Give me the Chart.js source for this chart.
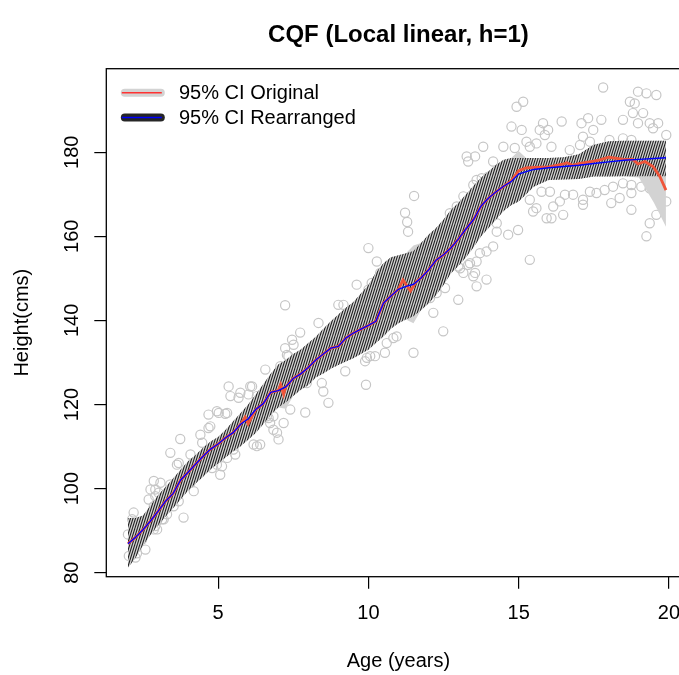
<!DOCTYPE html>
<html><head><meta charset="utf-8">
<script src="https://cdn.jsdelivr.net/npm/chart.js@4.4.1/dist/chart.umd.min.js"></script>
<style>html,body{margin:0;padding:0;background:#fff;overflow:hidden;width:679px;height:675px}canvas{display:block}</style>
</head><body>
<canvas id="c" width="700" height="675" style="width:700px;height:675px"></canvas>
<script>
const chartTitle = 'CQF (Local linear, h=1)';
const xAxisTitle = 'Age (years)';
const yAxisTitle = 'Height(cms)';
const legendLabels = ['95% CI Original', '95% CI Rearranged'];
const xTicks = [5, 10, 15, 20];
const yTicks = [80, 100, 120, 140, 160, 180];
const xRange = [1.28, 20.72];
const yRange = [79.05, 199.86];

const gridAge = [2,2.25,2.5,2.75,3,3.25,3.5,3.75,4,4.25,4.5,4.75,5,5.25,5.5,5.75,6,6.25,6.5,6.75,7,7.25,7.5,7.75,8,8.25,8.5,8.75,9,9.25,9.5,9.75,10,10.25,10.5,10.75,11,11.25,11.5,11.75,12,12.25,12.5,12.75,13,13.25,13.5,13.75,14,14.25,14.5,14.75,15,15.25,15.5,16,16.5,17,17.5,18,18.5,19,19.5,19.9];
const medianRearranged = [86.9,88.4,90.2,92.3,94.6,97.0,98.8,102.0,103.9,105.8,107.7,109.4,110.6,112.1,113.3,115.3,116.6,118.8,120.2,122.9,123.3,124.2,126.2,127.3,128.8,130.6,132.0,133.4,133.8,135.8,137.0,137.9,138.8,139.8,144.1,145.8,147.4,148.1,148.6,150.1,152.0,154.3,155.6,157.3,159.4,161.8,164.0,167.2,169.1,170.6,171.9,173.0,174.8,175.4,175.9,176.3,176.6,176.9,177.3,177.7,178.1,178.3,178.5,178.7];
const lowerRearranged = [81.2,83.5,86.5,89.0,91.3,93.3,95.3,97.4,99.5,101.2,102.8,104.6,106.0,107.4,108.8,110.1,111.6,113.2,115.3,117.5,119.3,120.5,122.0,123.5,124.6,126.4,127.4,128.5,129.4,130.2,131.0,132.0,133.0,134.6,136.2,138.0,139.3,140.2,141.0,142.4,144.0,146.0,148.4,151.2,153.0,155.0,157.4,160.0,162.0,164.0,166.0,167.4,168.3,170.0,171.8,173.4,173.5,173.6,174.2,174.2,174.3,174.3,174.3,174.3];
const upperRearranged = [93.0,93.0,93.6,96.0,98.4,100.4,102.4,104.5,106.5,108.0,109.7,111.2,112.3,114.0,116.0,118.0,120.0,122.4,124.8,127.3,129.5,130.6,132.0,133.1,134.6,136.1,138.0,139.8,141.4,143.0,144.4,146.4,148.4,151.4,153.6,155.0,155.5,156.0,156.5,158.4,160.4,162.0,164.0,166.3,168.0,170.0,172.0,174.0,175.5,177.0,178.2,178.6,178.6,178.6,178.6,178.6,178.8,179.5,181.8,182.6,182.7,182.7,182.7,182.7];
const lowerOriginal = [81.2,83.5,86.5,89.0,91.3,93.3,95.3,97.4,99.5,101.2,102.8,104.6,106.0,107.4,108.8,110.1,111.6,113.2,115.3,117.5,119.3,119.0,122.0,123.5,124.6,126.4,127.4,128.5,129.4,130.2,131.0,132.0,133.0,134.6,136.2,138.0,139.3,140.2,139.3,142.4,144.0,146.0,148.4,151.2,153.0,155.0,157.4,160.0,162.0,164.0,166.0,167.4,168.3,170.0,171.8,173.4,173.5,173.6,174.2,174.2,174.3,174.0,168.0,162.3];
const upperOriginal = [93.0,93.0,93.6,96.0,98.4,100.4,102.4,104.5,106.5,108.0,109.7,111.2,112.3,114.0,116.0,118.0,120.0,122.4,124.8,127.3,129.5,130.6,132.0,133.1,134.6,136.1,138.0,139.8,141.4,143.0,144.4,146.4,148.4,151.4,153.6,155.0,155.5,156.0,157.8,158.4,160.4,162.0,164.0,166.3,168.0,170.0,172.0,174.0,175.5,177.0,178.2,178.6,180.3,178.6,178.6,178.6,178.8,179.5,181.8,182.6,182.7,182.7,182.7,182.7];

const redAge = [2,2.25,2.5,2.75,3,3.25,3.5,3.75,4,4.25,4.5,4.75,5,5.25,5.5,5.75,5.9,6,6.25,6.5,6.75,7,7.08,7.18,7.25,7.5,7.75,8,8.25,8.5,8.75,9,9.25,9.5,9.75,10,10.25,10.5,10.75,11,11.15,11.4,11.6,11.75,12,12.25,12.5,12.75,13,13.25,13.5,13.75,14,14.25,14.5,14.75,15,15.25,15.5,16,16.5,16.6,16.8,17,17.5,17.7,18,18.5,18.8,18.97,19.2,19.47,19.7,19.9];
const medianOriginal = [86.9,88.4,90.2,92.3,94.6,97.0,98.8,102.0,103.9,105.8,107.7,109.4,110.6,112.1,113.3,115.3,117.0,115.4,118.8,120.2,122.9,123.3,124.7,122.4,124.2,126.2,127.3,128.8,130.6,132.0,133.4,133.8,135.8,137.0,137.9,138.8,139.8,144.1,145.8,147.4,149.6,147.0,149.3,150.1,152.0,154.3,155.6,157.3,159.4,161.8,164.0,167.2,169.1,170.6,171.9,173.2,175.6,176.3,176.4,176.5,177.2,177.5,176.9,177.3,177.9,178.2,178.8,178.3,178.3,177.2,177.8,176.6,174.2,171.0];

const obsAge = [2.19,2.14,2.00,2.31,2.58,2.03,2.25,2.30,2.69,2.91,2.86,3.08,2.97,3.19,2.75,3.08,2.47,2.86,2.91,2.97,3.14,3.30,2.86,2.91,3.02,3.52,3.69,3.85,3.41,3.63,3.69,3.41,3.74,4.19,4.08,4.08,4.41,4.47,4.68,4.68,4.96,5.30,5.02,5.24,4.74,4.63,4.80,4.96,5.07,5.30,5.13,5.35,5.41,5.68,5.74,6.07,6.01,5.51,5.57,6.18,6.29,6.40,6.57,7.07,7.29,7.23,7.51,7.73,7.79,7.90,7.40,7.18,6.96,7.01,6.84,6.62,7.95,6.68,6.13,6.29,6.84,6.73,7.23,7.34,7.46,7.73,7.46,8.34,9.00,9.17,9.67,9.00,8.73,8.67,8.50,8.45,9.23,9.92,9.89,9.95,10.06,9.61,10.00,10.00,10.28,10.11,10.39,10.22,10.55,10.94,10.83,10.61,11.50,11.22,11.29,11.32,11.52,12.05,12.27,12.55,12.16,12.49,12.99,12.40,13.05,13.38,13.60,13.71,13.93,13.16,13.49,13.93,13.60,12.71,12.94,13.27,13.16,13.49,13.60,13.77,13.99,13.27,13.32,13.55,13.82,14.15,14.49,14.15,13.32,12.99,13.55,14.49,14.87,14.76,14.93,15.15,15.10,15.26,15.59,15.37,15.81,15.70,15.98,15.87,16.09,14.27,14.27,14.65,14.98,15.37,15.59,15.48,15.93,16.09,15.76,16.04,15.37,16.43,16.70,17.04,17.37,17.09,17.31,17.48,17.14,17.75,17.81,16.48,16.15,16.37,16.54,16.81,17.14,17.14,17.37,17.59,17.86,18.02,18.47,18.75,18.47,18.70,18.86,18.80,19.14,18.97,19.25,19.58,18.97,19.36,19.64,19.47,19.91,18.14,18.47,18.75,19.08,18.08,18.36,18.75,18.75,19.36,19.47,19.91,19.36,19.58,19.25];
const obsHeight = [94.3,92.7,89.1,88.7,85.5,84.0,83.6,84.6,97.4,98.2,95.8,96.6,90.3,92.7,99.8,101.4,87.9,90.3,91.1,92.3,92.7,93.9,101.8,99.8,99.0,95.8,97.0,93.1,101.0,105.7,106.1,108.5,111.8,99.4,101.4,108.1,112.8,110.9,114.4,117.6,118.4,118.0,118.0,117.8,114.8,105.3,104.9,105.7,103.3,107.3,105.3,124.3,122.0,121.6,122.8,124.3,122.4,109.3,108.1,110.5,110.1,110.5,128.3,129.1,131.8,133.4,134.2,137.1,131.8,118.1,118.8,115.6,113.3,111.7,114.0,117.2,125.1,116.8,124.3,122.0,117.2,115.6,143.6,131.5,129.9,131.5,135.4,139.4,143.7,143.7,143.3,139.0,137.4,120.4,123.1,125.1,127.9,124.7,130.3,131.1,131.5,148.5,157.2,147.3,154.0,148.9,151.3,131.5,132.3,136.2,135.8,134.6,132.3,165.6,163.4,161.1,169.6,145.3,146.5,147.7,141.8,137.4,144.9,160.0,152.4,153.6,154.0,156.0,156.4,151.3,150.5,149.7,148.1,165.5,167.1,166.7,169.5,172.2,173.4,173.8,174.2,179.0,177.8,179.0,181.3,177.8,176.2,157.6,153.2,152.8,151.3,181.3,181.0,186.1,190.8,192.0,185.3,182.5,182.1,181.3,186.9,185.3,185.3,184.1,181.3,163.1,161.1,160.4,161.5,168.7,166.7,165.9,164.3,164.3,170.6,170.6,154.4,187.3,180.5,181.7,182.5,186.9,188.1,185.3,183.7,187.7,195.4,165.1,167.1,168.3,169.9,169.9,168.7,167.5,170.6,170.3,171.0,182.9,183.3,182.9,187.7,192.0,191.6,189.3,189.3,194.4,194.0,193.6,186.9,186.9,186.9,185.7,184.1,171.8,172.6,172.2,171.8,167.9,169.1,170.3,166.3,171.4,171.0,168.3,163.1,165.1,160.0];

Chart.defaults.font.family = "'Liberation Sans', Arial, Helvetica, sans-serif";
Chart.defaults.color = '#000';

const canvas = document.getElementById('c');
const ctx = canvas.getContext('2d');

function makeHatch(mainCtx) {
  const t = document.createElement('canvas');
  t.width = 5; t.height = 16;
  const g = t.getContext('2d');
  g.strokeStyle = '#1c1c1c';
  g.lineWidth = 1.05;
  for (let a = -5; a <= 5; a += 2.5) {
    g.beginPath(); g.moveTo(a, 16); g.lineTo(a + 5, 0); g.stroke();
  }
  return mainCtx.createPattern(t, 'repeat');
}
const hatch = makeHatch(ctx);
const pts = (xs, ys) => xs.map((x, i) => ({x: x, y: ys[i]}));
const clear = 'rgba(0,0,0,0)';

const colors = {
  points: '#c6c6c6', origBand: '#d3d3d3', red: '#ef553a', blue: '#0000ff',
  legendRed: '#ff3333', legendDark: '#262626'
};

const framePlugin = {
  id: 'frameAndLegend',
  afterDatasetsDraw(chart) {
    const c = chart.ctx, a = chart.chartArea;
    c.save();
    c.strokeStyle = '#000'; c.lineWidth = 1.3;
    c.strokeRect(a.left, a.top, a.right - a.left, a.bottom - a.top);
    const rows = [
      {thick: colors.origBand, thin: colors.legendRed, label: legendLabels[0], dy: 24},
      {thick: colors.legendDark, thin: colors.blue, label: legendLabels[1], dy: 48.8}
    ];
    const x0 = a.left + 18.5, x1 = a.left + 54.5;
    rows.forEach(r => {
      const y = a.top + r.dy;
      c.lineCap = 'round'; c.lineWidth = 8; c.strokeStyle = r.thick;
      c.beginPath(); c.moveTo(x0, y); c.lineTo(x1, y); c.stroke();
      c.lineCap = 'butt'; c.lineWidth = 1.5; c.strokeStyle = r.thin;
      c.beginPath(); c.moveTo(x0 - 3, y); c.lineTo(x1 + 1, y); c.stroke();
      c.fillStyle = '#000'; c.font = "20px 'Liberation Sans', Arial, sans-serif";
      c.textAlign = 'left'; c.textBaseline = 'middle';
      c.fillText(r.label, a.left + 72.7, y + 0.5);
    });
    c.restore();
  }
};

new Chart(ctx, {
  type: 'line',
  data: {
    datasets: [
      {label: 'Observations', type: 'scatter', data: pts(obsAge, obsHeight), showLine: false,
       pointRadius: 4.6, pointBorderColor: colors.points, pointBackgroundColor: clear, pointBorderWidth: 1.2, order: 7},
      {label: 'Original lower', data: pts(gridAge, lowerOriginal), borderColor: clear, borderWidth: 0, pointRadius: 0, fill: false, order: 6},
      {label: 'Original upper', data: pts(gridAge, upperOriginal), borderColor: clear, borderWidth: 0, pointRadius: 0, fill: '-1', backgroundColor: colors.origBand, order: 5},
      {label: 'Rearranged lower', data: pts(gridAge, lowerRearranged), borderColor: clear, borderWidth: 0, pointRadius: 0, fill: false, order: 4},
      {label: 'Rearranged upper', data: pts(gridAge, upperRearranged), borderColor: clear, borderWidth: 0, pointRadius: 0, fill: '-1', backgroundColor: hatch, order: 3},
      {label: 'Original', data: pts(redAge, medianOriginal), borderColor: colors.red, borderWidth: 2.8, pointRadius: 0, fill: false, order: 2},
      {label: 'Rearranged', data: pts(gridAge, medianRearranged), borderColor: colors.blue, borderWidth: 1.4, pointRadius: 0, fill: false, order: 1}
    ]
  },
  options: {
    responsive: false, animation: false, devicePixelRatio: 1, events: [],
    layout: {padding: {left: 0, right: 9.4, top: 0, bottom: 0}},
    plugins: {
      legend: {display: false}, tooltip: {enabled: false},
      filler: {drawTime: 'beforeDatasetDraw'},
      title: {display: true, text: chartTitle, fullSize: false, color: '#000',
              font: {size: 24, weight: 'bold', lineHeight: 1.2}, padding: {top: 20.6, bottom: 19.3}}
    },
    scales: {
      x: {
        type: 'linear', position: 'bottom', min: xRange[0], max: xRange[1],
        afterBuildTicks: s => { s.ticks = xTicks.map(v => ({value: v})); },
        afterFit: s => { s.height = 98.3; },
        grid: {drawOnChartArea: false, drawTicks: true, tickLength: 12, color: '#000', lineWidth: 1.2},
        border: {display: false},
        ticks: {color: '#000', font: {size: 20}, padding: 13, minRotation: 0, maxRotation: 0, autoSkip: false, callback: v => String(v)},
        title: {display: true, text: xAxisTitle, color: '#000', font: {size: 20}, padding: {top: 2, bottom: 2}}
      },
      y: {
        type: 'linear', position: 'left', min: yRange[0], max: yRange[1],
        afterBuildTicks: s => { s.ticks = yTicks.map(v => ({value: v})); },
        afterFit: s => { s.width = 106.3; },
        grid: {drawOnChartArea: false, drawTicks: true, tickLength: 12, color: '#000', lineWidth: 1.2},
        border: {display: false},
        ticks: {color: '#000', font: {size: 20}, padding: 5.6, minRotation: 90, maxRotation: 90, crossAlign: 'center', autoSkip: false, callback: v => String(v)},
        title: {display: true, text: yAxisTitle, color: '#000', font: {size: 20}, padding: {top: 10, bottom: 10}}
      }
    }
  },
  plugins: [framePlugin]
});
</script>
</body></html>
